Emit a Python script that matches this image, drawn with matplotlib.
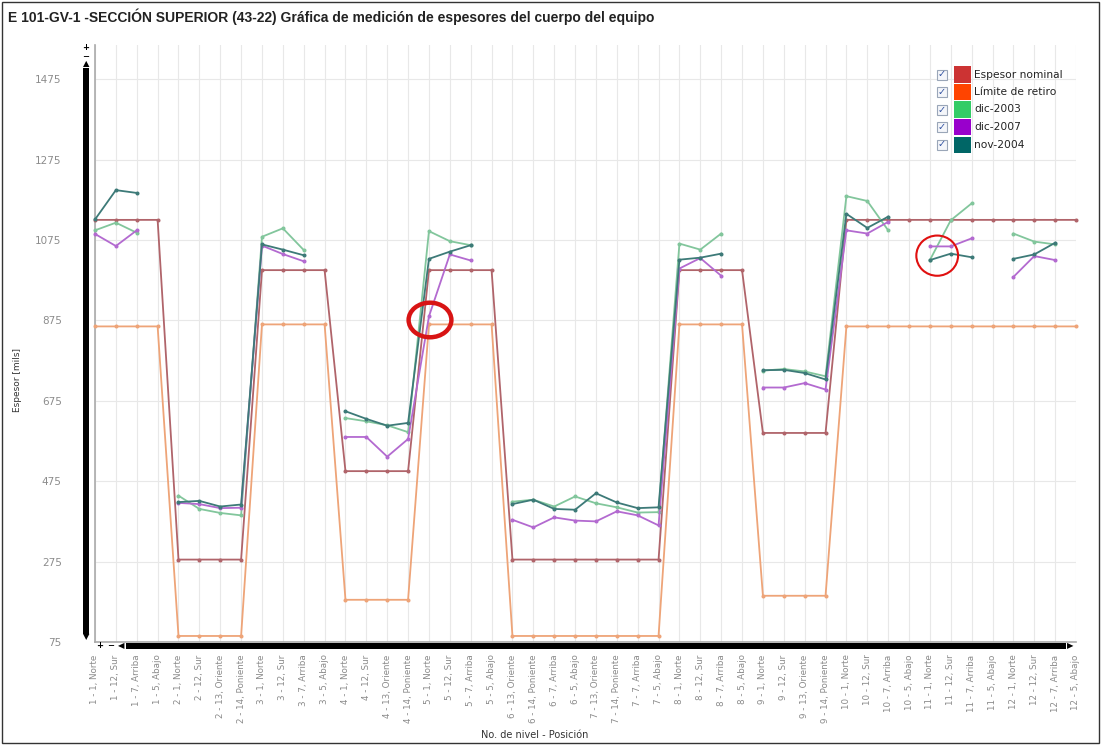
import matplotlib
matplotlib.use('Agg')
import matplotlib.pyplot as plt
import numpy as np
from matplotlib.patches import Rectangle, Ellipse

nan = np.nan

categorias = [
    '1 - 1, Norte', '1 - 12, Sur', '1 - 7, Arriba', '1 - 5, Abajo',
    '2 - 1, Norte', '2 - 12, Sur', '2 - 13, Oriente', '2 - 14, Poniente',
    '3 - 1, Norte', '3 - 12, Sur', '3 - 7, Arriba', '3 - 5, Abajo',
    '4 - 1, Norte', '4 - 12, Sur', '4 - 13, Oriente', '4 - 14, Poniente',
    '5 - 1, Norte', '5 - 12, Sur', '5 - 7, Arriba', '5 - 5, Abajo',
    '6 - 13, Oriente', '6 - 14, Poniente', '6 - 7, Arriba', '6 - 5, Abajo',
    '7 - 13, Oriente', '7 - 14, Poniente', '7 - 7, Arriba', '7 - 5, Abajo',
    '8 - 1, Norte', '8 - 12, Sur', '8 - 7, Arriba', '8 - 5, Abajo',
    '9 - 1, Norte', '9 - 12, Sur', '9 - 13, Oriente', '9 - 14, Poniente',
    '10 - 1, Norte', '10 - 12, Sur', '10 - 7, Arriba', '10 - 5, Abajo',
    '11 - 1, Norte', '11 - 12, Sur', '11 - 7, Arriba', '11 - 5, Abajo',
    '12 - 1, Norte', '12 - 12, Sur', '12 - 7, Arriba', '12 - 5, Abajo',
]

espesor_nominal = [
    1125, 1125, 1125, 1125, 280, 280, 280, 280,
    1000, 1000, 1000, 1000, 500, 500, 500, 500,
    1000, 1000, 1000, 1000, 280, 280, 280, 280,
    280, 280, 280, 280, 1000, 1000, 1000, 1000,
    595, 595, 595, 595, 1125, 1125, 1125, 1125,
    1125, 1125, 1125, 1125, 1125, 1125, 1125, 1125,
]

limite_retiro = [
    860, 860, 860, 860, 90, 90, 90, 90,
    865, 865, 865, 865, 180, 180, 180, 180,
    865, 865, 865, 865, 90, 90, 90, 90,
    90, 90, 90, 90, 865, 865, 865, 865,
    190, 190, 190, 190, 860, 860, 860, 860,
    860, 860, 860, 860, 860, 860, 860, 860,
]

dic_2003 = [
    1099, 1118, 1093, nan, 439, 406, 396, 390,
    1083, 1104, 1050, nan, 632, 624, 614, 597,
    1097, 1072, 1062, nan, 424, 429, 412, 437,
    420, 410, 397, 398, 1066, 1051, 1091, nan,
    750, 754, 748, 736, 1184, 1172, 1099, nan,
    1025, 1124, 1166, nan, 1091, 1071, 1064, nan,
]

dic_2007 = [
    1090, 1060, 1099, nan, 421, 418, 408, 409,
    1061, 1040, 1022, nan, 585, 585, 536, 580,
    885, 1039, 1024, nan, 379, 360, 385, 377,
    375, 400, 390, 365, 1004, 1030, 986, nan,
    708, 708, 719, 703, 1099, 1091, 1120, nan,
    1059, 1059, 1079, nan, 983, 1035, 1025, nan,
]

nov_2004 = [
    1126, 1199, 1192, nan, 423, 426, 412, 417,
    1064, 1051, 1037, nan, 649, 630, 613, 620,
    1028, 1046, 1062, nan, 418, 429, 406, 404,
    445, 422, 408, 410, 1026, 1031, 1041, nan,
    751, 752, 744, 728, 1140, 1105, 1133, nan,
    1025, 1041, 1032, nan, 1028, 1039, 1068, nan,
]

series = [
    ('Espesor nominal', espesor_nominal, '#cc3333', '#b0646a'),
    ('Límite de retiro', limite_retiro, '#ff4400', '#eea478'),
    ('dic-2003', dic_2003, '#33cc66', '#82c69c'),
    ('dic-2007', dic_2007, '#9900cc', '#b36ad0'),
    ('nov-2004', nov_2004, '#006666', '#3d7a78'),
]

W, H = 1102, 746


def fx(x):
    return x / W


def fy(y):
    return 1 - y / H


fig = plt.figure(figsize=(W / 100, H / 100), dpi=100)
ax = fig.add_axes([fx(95), fy(642), (1076 - 95) / W, (642 - 45) / H])

x = np.arange(len(categorias))
for nombre, valores, _, color in [series[1], series[0], series[2], series[3], series[4]]:
    ax.plot(x, valores, color=color, lw=1.3, marker='o', ms=1.9, clip_on=False, zorder=3)

ax.set_xlim(0, len(categorias) - 1)
ax.set_ylim(75, 1560)
ax.set_yticks(np.arange(75, 1476, 200))
ax.set_xticks(x)
ax.set_xticklabels(categorias, rotation=90, va='top', ha='center', fontsize=6.3,
                   color='#8a8a8a', family=['Liberation Sans Narrow', 'DejaVu Sans'])
for lbl in ax.get_yticklabels():
    lbl.set_fontsize(7.5)
    lbl.set_color('#8c8c8c')
ax.tick_params(axis='y', length=0, pad=24)
ax.tick_params(axis='x', length=0, pad=9)
ax.grid(color='#e8e8e8', lw=0.8)
ax.set_axisbelow(True)
for s in ['top', 'right']:
    ax.spines[s].set_visible(False)
for s in ['left', 'bottom']:
    ax.spines[s].set_color('#aaaaaa')
    ax.spines[s].set_linewidth(1.2)

# marcas en rojo sobre los puntos revisados
ax.add_patch(Ellipse((16.05, 876), 2.05, 86, fill=False, ec='#d81414', lw=3.2, zorder=5, clip_on=False))
ax.add_patch(Ellipse((40.35, 1036), 2.0, 100, fill=False, ec='#e01010', lw=1.5, zorder=5, clip_on=False))

fig.text(fx(8), fy(17), 'E 101-GV-1 -SECCIÓN SUPERIOR (43-22) Gráfica de medición de espesores del cuerpo del equipo',
         fontsize=10, fontweight='bold', family='Liberation Sans', va='center', ha='left', color='#222222')
fig.text(fx(18), fy(380), 'Espesor [mils]', rotation=90, fontsize=6.5, va='center', ha='center',
         family=['Liberation Sans Narrow', 'DejaVu Sans'], color='#333333')
fig.text(fx(535), fy(735), 'No. de nivel - Posición', fontsize=7, va='center', ha='center', color='#333333')

# barras de desplazamiento
fig.add_artist(Rectangle((fx(83), fy(634)), 6 / W, (634 - 68) / H, transform=fig.transFigure,
                         color='black', lw=0))
fig.add_artist(Rectangle((fx(126), fy(649)), (1066 - 126) / W, 6 / H, transform=fig.transFigure,
                         color='black', lw=0))
for tx, ty, s in [(86, 48, '+'), (86, 56.5, '−'), (86, 64, '▲'), (86, 637, '▼'),
                  (100, 646, '+'), (111, 646, '−'), (121, 646, '◀'), (1070, 646, '▶')]:
    fig.text(fx(tx), fy(ty), s, fontsize=6, fontweight='bold', ha='center', va='center', color='black')

# leyenda con casillas
for i, (nombre, _, swatch, _) in enumerate(series):
    cy = 74.5 + i * 17.5
    fig.add_artist(Rectangle((fx(937), fy(cy + 5)), 10 / W, 10 / H, transform=fig.transFigure,
                             fc='#f4f6fa', ec='#9aa6b8', lw=0.8))
    fig.text(fx(942), fy(cy), '✓', fontsize=7, ha='center', va='center', color='#3050a0')
    fig.add_artist(Rectangle((fx(954), fy(cy + 8)), 17 / W, 16 / H, transform=fig.transFigure,
                             fc=swatch, ec='none'))
    fig.text(fx(974), fy(cy), nombre, fontsize=7.7, ha='left', va='center', color='#222222')

fig.add_artist(Rectangle((fx(2), fy(743)), 1097 / W, 741 / H, transform=fig.transFigure,
                         fill=False, ec='#333333', lw=1))

plt.savefig('out.png', dpi=100)
